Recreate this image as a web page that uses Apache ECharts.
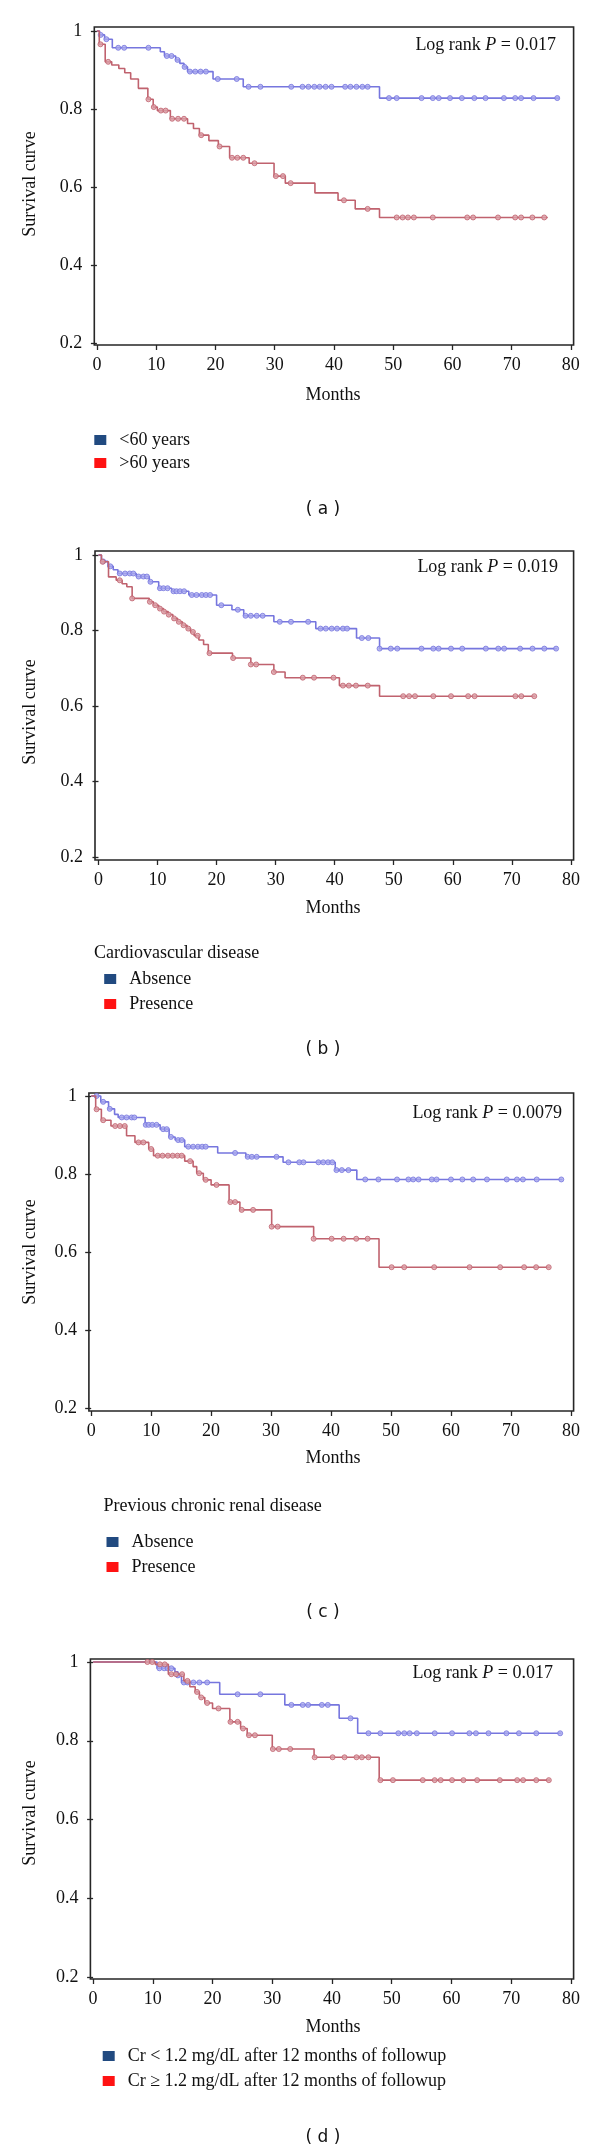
<!DOCTYPE html>
<html><head><meta charset="utf-8">
<script src="https://cdn.jsdelivr.net/npm/echarts@6/dist/echarts.min.js"></script>
<style>html,body{margin:0;padding:0;background:#fff}#c{width:600px;height:2154px}</style>
</head><body><div id="c"></div>
<script>
// ---------- DATA ----------
const xTicks = [0, 10, 20, 30, 40, 50, 60, 70, 80];
const yTicks = [0.2, 0.4, 0.6, 0.8, 1];
const panelLetters = ['a', 'b', 'c', 'd'];
const logRankP = ['0.017', '0.019', '0.0079', '0.017'];
const groupNames = [
  ['<60 years', '>60 years'],
  ['Absence', 'Presence'],
  ['Absence', 'Presence'],
  ['Cr < 1.2 mg/dL after 12 months of followup', 'Cr \u2265 1.2 mg/dL after 12 months of followup']
];
const legendTitles = ['', 'Cardiovascular disease', 'Previous chronic renal disease', ''];

// Panel (a): step points [month, survival] and censoring times
const aBlueSteps = [[0,1],[0.45,0.99],[1.3,0.979],[2.6,0.957],[10.7,0.947],[11.4,0.936],[13.3,0.926],[14.0,0.917],[14.7,0.908],[15.3,0.896],[19.6,0.877],[24.7,0.857],[47.7,0.828],[78,0.828]];
const aBlueCens = [0.64,1.6,3.6,4.6,8.7,11.8,12.6,13.6,14.8,15.7,16.6,17.5,18.4,20.4,23.6,25.6,27.6,32.8,34.7,35.7,36.7,37.6,38.6,39.6,41.9,42.8,43.8,44.8,45.7,49.3,50.6,54.8,56.7,57.7,59.6,61.6,63.7,65.6,68.7,70.6,71.6,73.7,77.7];
const aRedSteps = [[0,1],[0.4,0.966],[1.4,0.921],[2.5,0.913],[3.7,0.904],[4.7,0.893],[5.7,0.877],[7.0,0.853],[8.6,0.825],[9.5,0.805],[10.2,0.796],[12.4,0.775],[15.3,0.763],[16.3,0.75],[17.3,0.733],[18.9,0.719],[20.5,0.704],[22.4,0.675],[25.7,0.661],[29.9,0.628],[31.8,0.61],[36.8,0.585],[40.7,0.566],[43.6,0.544],[47.7,0.522],[76.1,0.522]];
const aRedCens = [0.6,1.9,8.7,9.6,10.8,11.6,12.7,13.7,14.7,17.6,20.7,22.8,23.7,24.7,26.6,30.2,31.4,32.7,41.7,45.7,50.6,51.6,52.5,53.5,56.7,62.5,63.5,67.7,70.6,71.6,73.5,75.5];

// Panel (b)
const bBlueSteps = [[0,1],[0.5,0.983],[1.6,0.97],[2.5,0.961],[3.3,0.951],[6.4,0.943],[8.6,0.929],[10.2,0.912],[12.4,0.904],[15.3,0.894],[20.0,0.867],[22.6,0.855],[24.6,0.839],[29.7,0.823],[36.8,0.805],[43.7,0.78],[47.6,0.752],[77.7,0.752]];
const bBlueCens = [0.8,2.0,3.6,4.5,5.3,5.9,6.8,7.6,8.2,8.8,10.4,11.0,11.7,12.7,13.2,13.8,14.5,15.8,16.6,17.5,18.2,18.9,20.8,23.6,24.9,25.8,26.8,27.8,30.7,32.6,35.5,37.6,38.5,39.5,40.4,41.4,42.1,44.6,45.7,47.6,49.5,50.6,54.7,56.7,57.6,59.7,61.6,65.6,67.7,68.7,71.4,73.5,75.5,77.5];
const bRedSteps = [[0,1],[0.5,0.982],[1.7,0.942],[3.0,0.933],[4.0,0.924],[4.8,0.916],[5.7,0.885],[8.6,0.876],[9.3,0.867],[10.2,0.858],[11.0,0.85],[11.8,0.842],[12.6,0.832],[13.4,0.823],[14.2,0.814],[15.0,0.805],[15.6,0.796],[16.2,0.786],[17.0,0.775],[17.8,0.763],[18.6,0.74],[22.7,0.727],[25.8,0.71],[29.7,0.69],[31.6,0.675],[40.8,0.654],[47.6,0.626],[74,0.626]];
const bRedCens = [0.7,3.6,5.7,8.7,9.6,10.4,11.1,11.9,12.8,13.6,14.4,15.2,16.0,16.8,18.8,22.8,25.8,26.7,29.7,34.6,36.5,39.8,41.4,42.4,43.6,45.6,51.6,52.6,53.6,56.7,59.7,62.6,63.7,70.6,71.6,73.8];

// Panel (c)
const cBlueSteps = [[0,1],[1.6,0.985],[2.9,0.967],[3.9,0.953],[4.5,0.945],[9.0,0.926],[11.5,0.915],[13.0,0.895],[14.0,0.887],[15.6,0.87],[21.1,0.854],[25.8,0.844],[32.0,0.83],[40.7,0.81],[44.3,0.786],[78.6,0.786]];
const cBlueCens = [0.9,2.0,3.1,5.1,5.9,6.75,7.2,9.1,9.6,10.2,10.9,12.0,12.6,13.3,14.5,15.1,16.2,17.0,17.8,18.5,19.1,24.0,26.1,26.8,27.6,30.9,32.9,34.7,35.4,37.9,38.7,39.5,40.2,40.9,41.8,42.9,45.7,47.9,51.0,52.9,53.7,54.6,56.8,57.6,60.0,61.9,63.7,66.0,69.3,71.0,72.0,74.3,78.4];
const cRedSteps = [[0,1],[0.75,0.966],[1.7,0.938],[3.3,0.923],[5.9,0.898],[7.3,0.881],[9.6,0.864],[10.4,0.847],[15.6,0.833],[17.0,0.819],[17.6,0.802],[18.7,0.785],[20.0,0.772],[23.0,0.728],[24.8,0.708],[30.1,0.665],[37.1,0.634],[48.0,0.561],[76.5,0.561]];
const cRedCens = [0.9,2.0,4.0,4.8,5.6,7.9,8.7,10.0,11.1,11.9,12.8,13.6,14.4,15.1,16.5,18.0,19.1,20.9,23.2,24.0,25.1,27.0,30.1,31.1,37.1,40.1,42.1,44.2,46.1,50.1,52.2,57.2,63.1,68.2,72.2,74.2,76.3];

// Panel (d)
const dBlueSteps = [[0,1],[10.7,0.984],[13.7,0.975],[14.2,0.966],[14.8,0.948],[21.2,0.918],[32.1,0.891],[41.2,0.857],[44.3,0.819],[78.4,0.819]];
const dBlueCens = [11.1,11.9,12.5,13.1,14.2,15.2,15.8,16.8,17.8,19.1,24.2,28.0,33.2,35.1,36.0,38.3,39.3,43.1,46.1,48.1,51.1,52.1,53.0,54.2,57.2,60.1,63.0,64.1,66.2,69.2,71.3,74.2,78.2];
const dRedSteps = [[0,1],[10.4,0.994],[12.6,0.969],[15.2,0.952],[16.2,0.937],[17.1,0.924],[17.8,0.91],[18.7,0.896],[20.0,0.882],[22.9,0.848],[24.7,0.831],[25.8,0.814],[30.0,0.779],[37.0,0.758],[47.9,0.70],[76.5,0.70]];
const dRedCens = [9.1,9.9,11.2,12.0,13.1,13.9,14.9,15.8,17.4,18.1,19.1,21.0,23.0,24.2,25.1,26.1,27.1,30.1,31.1,33.0,37.1,40.1,42.1,44.1,45.0,46.1,48.1,50.2,55.2,57.2,58.2,60.1,62.0,64.3,68.1,71.0,72.0,74.2,76.3];

const panels = [
  [[aBlueSteps, aBlueCens], [aRedSteps, aRedCens]],
  [[bBlueSteps, bBlueCens], [bRedSteps, bRedCens]],
  [[cBlueSteps, cBlueCens], [cRedSteps, cRedCens]],
  [[dBlueSteps, dBlueCens], [dRedSteps, dRedCens]]
];

// ---------- LAYOUT / STYLE ----------
const L = [
  {grid:{left:94.3,top:27,width:479.3,height:318}, x:[-0.44,80.46], y:[0.195,1.0103], yt:184, mo:395, cap:510, lr:[556,45], leg:{left:94.3,top:431,gap:5}, lt:null},
  {grid:{left:95,top:551,width:478.6,height:309}, x:[-0.59,80.46], y:[0.192,1.0106], yt:712, mo:908, cap:1050, lr:[558,567], leg:{left:104.2,top:970,gap:7}, lt:[93.9,953]},
  {grid:{left:88.9,top:1093,width:484.7,height:318}, x:[-0.38,80.45], y:[0.1923,1.0077], yt:1252, mo:1458, cap:1613, lr:[562,1113], leg:{left:106.5,top:1533,gap:7}, lt:[103.4,1506]},
  {grid:{left:90.4,top:1659,width:483.2,height:320}, x:[-0.45,80.45], y:[0.195,1.0076], yt:1813, mo:2027, cap:2138, lr:[553,1673], leg:{left:102.7,top:2047,gap:7}, lt:null}
];
const SERIF = '"Liberation Serif", "Times New Roman", serif';
const lineColors = ['#7676de', '#c0626e'];
const markFill = ['#a9a9ee', '#dba0a8'];
const legendColors = ['#214a80', '#ff1212'];

function survAt(steps, t) {
  let v = steps[0][1];
  for (const s of steps) { if (s[0] <= t + 1e-9) v = s[1]; }
  return v;
}

const grids = [], xAxes = [], yAxes = [], series = [], legends = [], graphics = [];
L.forEach((p, i) => {
  grids.push(Object.assign({show:true, borderColor:'#262626', borderWidth:1.6, containLabel:false}, p.grid));
  xAxes.push({type:'value', gridIndex:i, min:p.x[0], max:p.x[1],
    axisLine:{show:false}, splitLine:{show:false},
    axisTick:{show:true, customValues:xTicks, length:5, lineStyle:{color:'#262626', width:1.3}},
    axisLabel:{customValues:xTicks, margin:11, fontFamily:SERIF, fontSize:18, color:'#111'}});
  yAxes.push({type:'value', gridIndex:i, min:p.y[0], max:p.y[1],
    axisLine:{show:false}, splitLine:{show:false},
    axisTick:{show:true, customValues:yTicks, length:6, lineStyle:{color:'#262626', width:1.3}},
    axisLabel:{customValues:yTicks, margin:12, fontFamily:SERIF, fontSize:18, color:'#111'}});
  panels[i].forEach((grp, g) => {
    const steps = grp[0], cens = grp[1];
    series.push({type:'line', name:groupNames[i][g], xAxisIndex:i, yAxisIndex:i, step:'end',
      showSymbol:false, data:steps, silent:true, z:2 + g*2,
      lineStyle:{color:lineColors[g], width:1.6}, itemStyle:{color:lineColors[g]}});
    series.push({type:'scatter', name:groupNames[i][g], xAxisIndex:i, yAxisIndex:i,
      data:cens.map(t => [t, survAt(steps, t)]), symbol:'circle', symbolSize:5, silent:true, z:3 + g*2,
      itemStyle:{color:markFill[g], borderColor:lineColors[g], borderWidth:1}});
  });
  legends.push({orient:'vertical', left:p.leg.left, top:p.leg.top, itemGap:p.leg.gap, padding:0,
    icon:'rect', itemWidth:12, itemHeight:10, selectedMode:false,
    textStyle:{fontFamily:SERIF, fontSize:18, color:'#111', padding:[0,0,0,8]},
    data:groupNames[i].map((n, g) => ({name:n, itemStyle:{color:legendColors[g]}}))});
  graphics.push({type:'text', x:30.7, y:p.yt, rotation:Math.PI/2,
    style:{text:'Survival curve', font:'18px ' + SERIF, fill:'#111', align:'center', verticalAlign:'middle'}});
  graphics.push({type:'text', x:333, y:p.mo,
    style:{text:'Months', font:'18px ' + SERIF, fill:'#111', align:'center', verticalAlign:'middle'}});
  graphics.push({type:'text', x:323, y:p.cap,
    style:{text:'( ' + panelLetters[i] + ' )', font:'17px "DejaVu Sans", sans-serif', fill:'#111', align:'center', verticalAlign:'middle'}});
  graphics.push({type:'text', x:p.lr[0], y:p.lr[1],
    style:{text:'{n|Log rank }{i|P}{n| = ' + logRankP[i] + '}', align:'right', verticalAlign:'middle',
      rich:{n:{font:'18px ' + SERIF, fill:'#111', color:'#111'}, i:{font:'italic 18px ' + SERIF, fill:'#111', color:'#111'}}}});
  if (p.lt) graphics.push({type:'text', x:p.lt[0], y:p.lt[1],
    style:{text:legendTitles[i], font:'18px ' + SERIF, fill:'#111', align:'left', verticalAlign:'middle'}});
});

const chart = echarts.init(document.getElementById('c'), null, {renderer:'canvas'});
chart.setOption({
  backgroundColor:'#fff', animation:false,
  grid:grids, xAxis:xAxes, yAxis:yAxes, series:series, legend:legends, graphic:graphics
});
</script></body></html>
